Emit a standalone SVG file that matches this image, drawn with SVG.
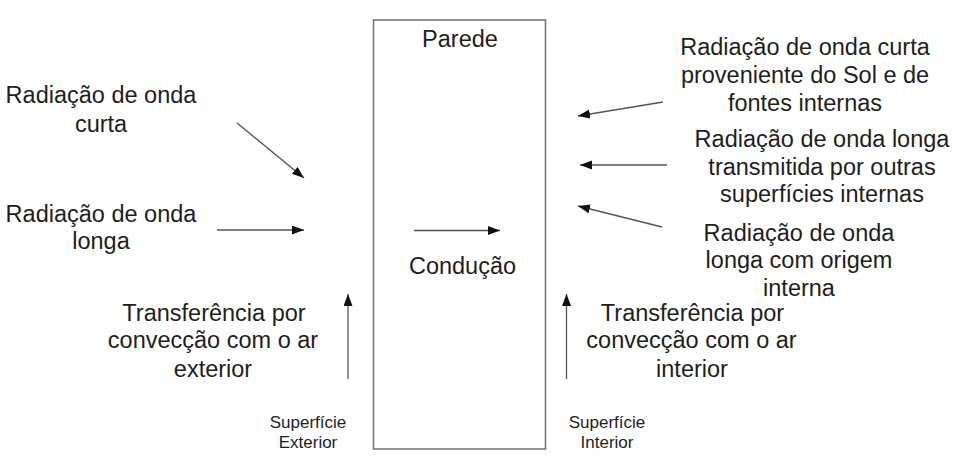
<svg xmlns="http://www.w3.org/2000/svg" width="957" height="466" viewBox="0 0 957 466">
  <defs>
    <marker id="ah" markerWidth="13" markerHeight="10" refX="12" refY="4.5" orient="auto" markerUnits="userSpaceOnUse">
      <path d="M0,0 L12,4.5 L0,9 z" fill="#111"/>
    </marker>
  </defs>
  <style>
    .t { font-family: "Liberation Sans", Arial, sans-serif; font-size: 23.5px; fill: #1e1e1e; text-anchor: middle; }
    .s { font-family: "Liberation Sans", Arial, sans-serif; font-size: 17px; fill: #1e1e1e; text-anchor: middle; }
    .c { stroke: #555; stroke-width: 1.3; fill: none; marker-end: url(#ah); }
    .wall { fill: #fff; stroke: #777; stroke-width: 1.6; }
  </style>
  <rect width="957" height="466" fill="#fff"/>

  <g id="parede">
    <rect class="wall" x="373.5" y="20" width="172" height="429"/>
    <text class="t" x="460" y="47">Parede</text>
  </g>

  <g id="conducao">
    <text class="t" x="462.5" y="274">Condução</text>
  </g>

  <g id="rad-curta-ext">
    <text class="t" x="101" y="103">Radiação de onda</text>
    <text class="t" x="101" y="132">curta</text>
  </g>

  <g id="rad-longa-ext">
    <text class="t" x="101" y="222">Radiação de onda</text>
    <text class="t" x="101" y="249">longa</text>
  </g>

  <g id="conv-ext">
    <text class="t" x="214" y="321">Transferência por</text>
    <text class="t" x="213" y="348">convecção com o ar</text>
    <text class="t" x="213" y="377">exterior</text>
  </g>

  <g id="sup-ext">
    <text class="s" x="308" y="428">Superfície</text>
    <text class="s" x="308" y="448">Exterior</text>
  </g>

  <g id="rad-curta-int">
    <text class="t" x="805" y="55">Radiação de onda curta</text>
    <text class="t" x="805" y="83">proveniente do Sol e de</text>
    <text class="t" x="805" y="111">fontes internas</text>
  </g>

  <g id="rad-longa-trans">
    <text class="t" x="822" y="147">Radiação de onda longa</text>
    <text class="t" x="822" y="175">transmitida por outras</text>
    <text class="t" x="822" y="202">superfícies internas</text>
  </g>

  <g id="rad-longa-int">
    <text class="t" x="799" y="241">Radiação de onda</text>
    <text class="t" x="799" y="268">longa com origem</text>
    <text class="t" x="799" y="296">interna</text>
  </g>

  <g id="conv-int">
    <text class="t" x="692.5" y="321">Transferência por</text>
    <text class="t" x="691.5" y="348">convecção com o ar</text>
    <text class="t" x="692" y="377">interior</text>
  </g>

  <g id="sup-int">
    <text class="s" x="607" y="428">Superfície</text>
    <text class="s" x="607" y="448">Interior</text>
  </g>

  <g id="connectors">
    <line class="c" x1="237" y1="123" x2="304" y2="178"/>
    <line class="c" x1="217" y1="230" x2="304" y2="230"/>
    <line class="c" x1="414" y1="230.5" x2="500" y2="230.5"/>
    <line class="c" x1="348" y1="379" x2="348" y2="294"/>
    <line class="c" x1="566.5" y1="379" x2="566.5" y2="294"/>
    <line class="c" x1="663" y1="102" x2="578" y2="116"/>
    <line class="c" x1="667" y1="165" x2="580" y2="165"/>
    <line class="c" x1="662" y1="227" x2="578" y2="206"/>
  </g>
</svg>
